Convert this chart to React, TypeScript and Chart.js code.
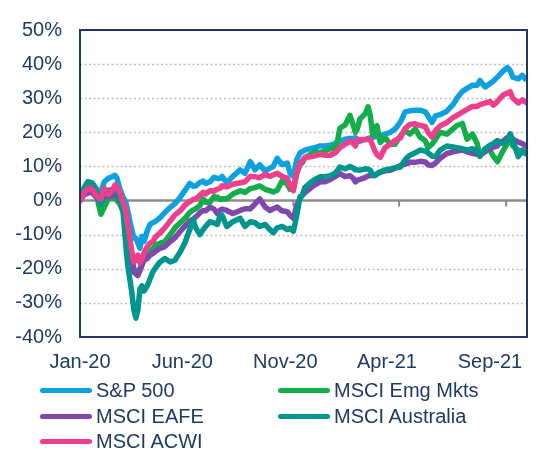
import React, { useEffect, useRef } from "react";
import { Chart, registerables } from "chart.js";

Chart.register(...registerables);

// Days since 1 Jan 2020
const daysSinceStart = [
  0, 6, 12, 18, 24, 28, 31, 36, 42, 48,
  52, 55, 59, 64, 68, 71, 74, 77, 80, 83,
  86, 89, 92, 95, 100, 104, 108, 113, 119, 126,
  134, 141, 149, 156, 163, 168, 172, 178, 183, 187,
  193, 199, 204, 208, 211, 218, 227, 238, 245, 253,
  260, 267, 275, 282, 287, 293, 300, 308, 312, 317,
  322, 327, 330, 334, 342, 349, 357, 364, 372, 379,
  383, 386, 394, 401, 406, 409, 412, 416, 424, 428,
  431, 435, 438, 441, 446, 453, 461, 468, 476, 483,
  490, 498, 505, 513, 517, 523, 528, 535, 545, 554,
  560, 568, 575, 583, 590, 594, 602, 609, 614, 620,
  624, 629, 635, 639, 643, 651, 657, 661, 664,
];

const sp500 = [
  0, 2.5, 4, 4.2, 3, 2, 2.5, 5.5, 6.5, 7,
  7.4, 6.5, 3.6, 1, -0.5, -3, -6, -8.5, -11, -11,
  -12.5, -14, -10.5, -12, -8.8, -7, -6.5, -6, -5, -3.5,
  -2, -0.9, 1, 3, 5, 4.2, 4.3, 5.3, 5.7, 5,
  5.5, 6.8, 6.5, 6.5, 7.1, 5.2, 7.1, 9, 8, 11.4,
  9, 10.5, 8.6, 9.5, 10, 12.4, 10.5, 11, 8, 7,
  12, 14, 14.3, 14.8, 15.2, 15.5, 16, 16, 16.2, 16.7,
  17, 17.4, 18, 18.2, 18.3, 18.4, 18, 17.4, 17.9, 18.2,
  18.4, 18.5, 18.7, 18.8, 18.9, 19.5, 20, 21, 23, 26,
  26.3, 26.5, 26.5, 26, 24.8, 22.9, 24.8, 25.2, 26.2, 28.1,
  30, 32, 32.9, 33.8, 33.8, 35.2, 33.3, 34.3, 35, 36.2,
  37, 38.1, 39, 38.1, 36.2, 35.7, 36.7, 35.7, 36.2,
];

const msciEmgMkts = [
  0, 3.6, 5.5, 4.8, 2.5, -1.5, -4, -2, 0.5, 1.0,
  0.8, 0, -1, -3, -5, -7.5, -12, -16, -20, -20.5,
  -20.7, -20, -18.5, -17.5, -16.5, -15, -14.2, -13, -12.5, -12,
  -10, -8, -6.5, -5.2, -3.5, -2.8, -2.4, -1.5, 0.5, -0.5,
  -0.5, 1.2, 1, 0.3, 0.5, 0.5, 1.9, 2.9, 2.4, 3.5,
  3.8, 4.3, 3.3, 2.9, 2.5, 3, 5.7, 4.8, 3.3, 3.8,
  8, 10.8, 11, 12.5, 13.5, 14.3, 14, 14.6, 15.2, 15.5,
  18, 21.2, 22.2, 25, 22, 20, 21, 24, 25.5, 27.5,
  25, 19, 20.5, 22, 17, 18.5, 16.5, 16.5, 19, 20.5,
  19.5, 21, 18.6, 17.5, 15.5, 16.5, 18, 20, 19.5, 21,
  22, 22.6, 18, 19.5, 16.7, 12.9, 15.2, 14.8, 13, 11.4,
  12.9, 14.8, 16.7, 19.5, 16, 14.8, 14, 14.2, 13.8,
];

const msciEafe = [
  0, 1.7, 2.2, 2.4, 1.0, 0, -0.5, 1.2, 1.0, 1.5,
  2.2, 1.5, 0, -2, -4.5, -8, -12, -17, -21, -21.5,
  -22, -20.5, -19, -17.5, -17, -16, -15.5, -14.8, -14, -13.5,
  -12, -10.9, -9, -7.5, -6, -5.5, -4.8, -3.6, -2.9, -3,
  -1.9, -2.5, -3.8, -2.8, -2.5, -2.9, -3.8, -2.9, -2.4, -2.4,
  -1, 0.5, -1.9, -2.9, -2.4, -1.9, -3, -3.3, -4.3, -5.2,
  -1.4, 0.8, 1.4, 2.3, 3.6, 4.6, 5.5, 5.5, 6.2, 7,
  7.5, 7.9, 7, 7.3, 6.5, 5.5, 6, 6.2, 6.8, 7.2,
  7.4, 7.3, 7.4, 7.8, 8.3, 8.7, 8.9, 9.5, 10.3, 10.7,
  11.2, 11.2, 11.5, 11.3, 10.5, 10.3, 11, 12.4, 13.8, 14.3,
  14.5, 14.8, 14.3, 13.8, 13.6, 13.3, 14.3, 15.2, 15.7, 16,
  17.1, 17.5, 18.5, 19, 18, 17.1, 16.7, 16.2, 15.7,
];

const msciAustralia = [
  0, 3.6, 5.5, 5.2, 3.5, 0.5, -1, 2.5, 3, 3.2,
  3.6, 2.5, 0.8, -3.5, -13, -19, -23, -27, -32, -34.5,
  -32, -26, -25, -26.5, -25, -23, -21, -19.5, -18, -17,
  -18, -17.5, -15, -12.3, -8.5, -5.6, -8, -10, -8.5, -7.5,
  -6.2, -6.6, -7, -4.5, -4.3, -7.6, -6.2, -5.2, -7.6, -6.2,
  -6.5, -7.6, -7, -8.5, -9.4, -8, -7.6, -8.5, -8.1, -9,
  -4.3, 1.2, 1.5, 3.8, 5.2, 6.2, 7, 7, 7.3, 8,
  9, 9.8, 9.3, 10, 9.5, 9, 9, 8.9, 9.3, 9.2,
  8.9, 7.5, 7.3, 7.8, 8.4, 9, 9.3, 9.6, 9.8, 12,
  13.3, 14, 14.8, 14.5, 14, 13, 12.9, 14.8, 16, 15.7,
  15.5, 15.2, 14.8, 15.2, 14.5, 13.3, 15.2, 16.2, 16.7, 17.6,
  17.1, 16.7, 17.6, 19.5, 17.6, 12.9, 14.8, 14, 13.5,
];

const msciAcwi = [
  0, 2.2, 3.6, 3.4, 1.5, 0.8, 0.5, 3.6, 1.8, 3.0,
  4.6, 4, 2.5, -0.5, -3, -7, -11, -15, -18, -17.5,
  -16, -18.3, -17, -15.4, -13.5, -12.5, -12, -10.5, -9.5, -8,
  -6, -4.2, -3, -1.3, -0.3, 0.3, 0.5, 1.5, 2.4, 2,
  2.9, 2.8, 3.3, 3.6, 4.3, 4, 4.8, 5.2, 5.5, 7.1,
  7, 6.7, 7.6, 7.1, 7.5, 8, 7.1, 6.5, 4.3, 2.9,
  8.1, 11, 11.5, 12.6, 12.8, 13.1, 13.6, 13.3, 13.3, 14,
  14.8, 15.5, 16.5, 17.4, 16.8, 16, 17.9, 17.9, 17.9, 18,
  17.9, 16, 14.6, 13.5, 12.7, 15.5, 16.5, 17.6, 18.4, 21.2,
  22.3, 22.5, 22, 21.7, 20, 18.6, 20.5, 21.9, 22.9, 24.3,
  25, 25.9, 26.7, 27.6, 27.6, 28.1, 28.6, 29, 28, 29,
  30, 31, 31.5, 31.9, 30, 28.6, 29.5, 29, 28.6,
];

const seriesNames = ["S&P 500", "MSCI Emg Mkts", "MSCI EAFE", "MSCI Australia", "MSCI ACWI"];
const seriesColors = ["#0FA0E0", "#13AD4A", "#8048AE", "#00968E", "#EE3F8D"];

const xTickDays = [0, 152, 305, 456, 609];
const xTickLabels = ["Jan-20", "Jun-20", "Nov-20", "Apr-21", "Sep-21"];
const axisMarkDays = [0, 159, 317, 474, 633];
const xMaxDay = 664;
const yMin = -40;
const yMax = 50;
const yStep = 10;

const FONT = '"Liberation Sans", Arial, Helvetica, sans-serif';
const NAVY = "#1F3864";
const TEXT = "#1F3A63";

export default function App() {
  const ref = useRef<HTMLCanvasElement>(null);

  useEffect(() => {
    if (!ref.current) return;
    const seriesValues = [sp500, msciEmgMkts, msciEafe, msciAustralia, msciAcwi];
    const datasets = seriesValues.map((vals, i) => ({
      label: seriesNames[i],
      data: vals.map((v, j) => ({ x: daysSinceStart[j], y: v })),
      borderColor: seriesColors[i],
      backgroundColor: seriesColors[i],
      borderWidth: 5.5,
      pointRadius: 0,
      tension: 0,
      borderJoinStyle: "round" as const,
      borderCapStyle: "round" as const,
      order: seriesValues.length - i,
    }));

    const framePlugin = {
      id: "frame",
      beforeDatasetsDraw(chart: any) {
        const { ctx, chartArea: a, scales } = chart;
        const ys = scales.y;
        const xs = scales.x;
        ctx.save();
        ctx.lineWidth = 1.5;
        ctx.strokeStyle = "#BEBEBE";
        ctx.setLineDash([2, 2.5]);
        for (let v = yMin + yStep; v < yMax; v += yStep) {
          if (v === 0) continue;
          const py = Math.round(ys.getPixelForValue(v)) + 0.5;
          ctx.beginPath();
          ctx.moveTo(a.left, py);
          ctx.lineTo(a.right, py);
          ctx.stroke();
        }
        ctx.setLineDash([]);
        ctx.strokeStyle = "#8C8C8C";
        ctx.lineWidth = 2.5;
        const z = ys.getPixelForValue(0);
        ctx.beginPath();
        ctx.moveTo(a.left, z);
        ctx.lineTo(a.right, z);
        ctx.stroke();
        ctx.lineWidth = 2;
        for (const d of axisMarkDays) {
          const px = xs.getPixelForValue(d);
          ctx.beginPath();
          ctx.moveTo(px, z);
          ctx.lineTo(px, z + 6);
          ctx.stroke();
        }
        ctx.restore();
      },
      afterDatasetsDraw(chart: any) {
        const { ctx, chartArea: a } = chart;
        ctx.save();
        ctx.strokeStyle = NAVY;
        ctx.lineWidth = 2;
        ctx.strokeRect(a.left, a.top, a.right - a.left, a.bottom - a.top);
        ctx.restore();
      },
    };

    const chart = new Chart(ref.current, {
      type: "line",
      data: { datasets },
      options: {
        animation: false,
        responsive: false,
        maintainAspectRatio: false,
        devicePixelRatio: 1,
        layout: { padding: { left: 0, right: 11, top: 22, bottom: 73 } },
        plugins: { legend: { display: false }, tooltip: { enabled: false } },
        scales: {
          x: {
            type: "linear",
            min: 0,
            max: xMaxDay,
            grid: { display: false, drawTicks: false },
            border: { display: false },
            afterBuildTicks: (scale: any) => {
              scale.ticks = xTickDays.map((v) => ({ value: v }));
            },
            afterFit: (scale: any) => {
              scale.height = 40;
            },
            ticks: {
              autoSkip: false,
              maxRotation: 0,
              padding: 13,
              color: TEXT,
              font: { family: FONT, size: 20 },
              callback: (v: any) => {
                const i = xTickDays.indexOf(Number(v));
                return i >= 0 ? xTickLabels[i] : "";
              },
            },
          },
          y: {
            min: yMin,
            max: yMax,
            grid: { display: false, drawTicks: false },
            border: { display: false },
            afterFit: (scale: any) => {
              scale.width = 80;
            },
            ticks: {
              stepSize: yStep,
              padding: 18,
              color: TEXT,
              font: { family: FONT, size: 20 },
              callback: (v: any) => `${v}%`,
            },
          },
        },
      },
      plugins: [framePlugin],
    });
    return () => chart.destroy();
  }, []);

  const legendRows = [
    [0, 1],
    [2, 3],
    [4],
  ];

  return (
    <div style={{ position: "fixed", left: 0, top: 0, width: 538, height: 450, background: "#fff" }}>
      <canvas ref={ref} width={538} height={450} style={{ width: 538, height: 450, display: "block" }} />
      <div style={{ position: "absolute", left: 40, top: 378, fontFamily: FONT, fontSize: 20, color: TEXT }}>
        {legendRows.map((row, r) => (
          <div key={r} style={{ display: "flex", height: 25.5, alignItems: "center" }}>
            {row.map((i) => (
              <div key={i} style={{ display: "flex", alignItems: "center", width: 238 }}>
                <span
                  style={{
                    display: "inline-block",
                    width: 52,
                    height: 5,
                    borderRadius: 3,
                    background: seriesColors[i],
                    marginRight: 4,
                  }}
                />
                <span style={{ lineHeight: "25.5px", whiteSpace: "nowrap" }}>{seriesNames[i]}</span>
              </div>
            ))}
          </div>
        ))}
      </div>
    </div>
  );
}
